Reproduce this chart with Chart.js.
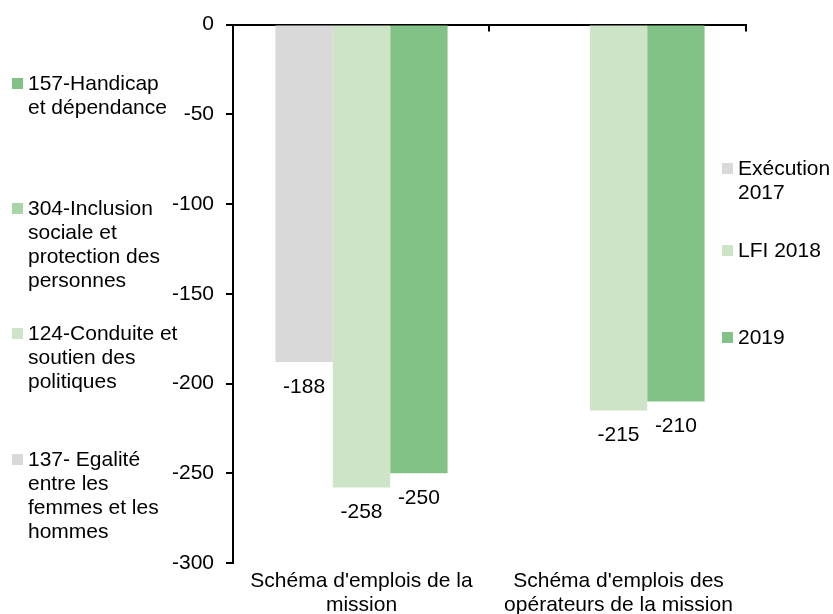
<!DOCTYPE html>
<html>
<head>
<meta charset="utf-8">
<script src="https://cdn.jsdelivr.net/npm/chart.js@4.4.0/dist/chart.umd.min.js"></script>
<style>
  body { margin: 0; background: #fff; }
  #wrap { position: relative; width: 833px; height: 614px; font-family: "Liberation Sans", Arial, sans-serif; font-size: 21px; color: #000; }
  .item { position: absolute; line-height: 24px; white-space: nowrap; }
  .sq { position: absolute; width: 11px; height: 11px; }
</style>
</head>
<body>
<div id="wrap">
  <canvas id="myChart" width="833" height="614"></canvas>
</div>
<script>
const categories = [["Schéma d'emplois de la", 'mission'], ["Schéma d'emplois des", 'opérateurs de la mission']];
const seriesNames = ['Exécution 2017', 'LFI 2018', '2019'];
const exec2017 = [-188, null];
const lfi2018 = [-258, -215];
const vote2019 = [-250, -210];
const colors = ['#d9d9d9', '#cde4c6', '#82c287'];

// legend of the other chart (programmes), shown on the left
const progNames = [['157-Handicap', 'et dépendance'], ['304-Inclusion', 'sociale et', 'protection des', 'personnes'], ['124-Conduite et', 'soutien des', 'politiques'], ['137- Egalité', 'entre les', 'femmes et les', 'hommes']];
const progColors = ['#82c287', '#a9d4a5', '#cde4c6', '#d9d9d9'];
const rightLegend = [['Exécution', '2017'], ['LFI 2018'], ['2019']];

function addLegend(names, cols, x, ys) {
  const wrap = document.getElementById('wrap');
  names.forEach((lines, i) => {
    const sq = document.createElement('div');
    sq.className = 'sq';
    sq.style.left = x + 'px';
    sq.style.top = (ys[i] - 5) + 'px';
    sq.style.background = cols[i];
    wrap.appendChild(sq);
    const it = document.createElement('div');
    it.className = 'item';
    it.style.left = (x + 16) + 'px';
    it.style.top = (ys[i] - 12) + 'px';
    it.innerHTML = lines.join('<br>');
    wrap.appendChild(it);
  });
}
addLegend(progNames, progColors, 12, [83, 208, 333, 459]);
addLegend(rightLegend, colors, 722, [168, 250, 337]);

const valueLabels = {
  id: 'valueLabels',
  afterDatasetsDraw(chart) {
    const c = chart.ctx;
    c.save();
    c.font = '21px "Liberation Sans", Arial';
    c.fillStyle = '#000';
    c.textAlign = 'center';
    c.textBaseline = 'middle';
    chart.data.datasets.forEach((ds, i) => {
      chart.getDatasetMeta(i).data.forEach((bar, j) => {
        if (ds.data[j] == null) return;
        c.fillText(ds.data[j], bar.x, bar.y + 25);
      });
    });
    // short ticks on the zero line at category edges
    const a = chart.chartArea;
    const xs = chart.scales.x;
    const w = (a.right - a.left) / categories.length;
    c.strokeStyle = '#000';
    c.lineWidth = 2;
    for (let k = 1; k <= categories.length; k++) {
      const px = Math.round(a.left + k * w) - 1;
      c.beginPath();
      c.moveTo(px, a.top);
      c.lineTo(px, a.top + 7);
      c.stroke();
    }
    c.restore();
  }
};

const ctx = document.getElementById('myChart');
new Chart(ctx, {
  type: 'bar',
  data: {
    labels: categories,
    datasets: [
      { label: seriesNames[0], data: exec2017, backgroundColor: colors[0] },
      { label: seriesNames[1], data: lfi2018, backgroundColor: colors[1] },
      { label: seriesNames[2], data: vote2019, backgroundColor: colors[2] }
    ]
  },
  options: {
    responsive: false,
    animation: false,
    barPercentage: 1,
    categoryPercentage: 0.67,
    layout: { padding: { top: 22, right: 86, left: 0, bottom: 0 } },
    plugins: {
      legend: { display: false },
      tooltip: { enabled: false }
    },
    scales: {
      x: {
        grid: { display: false, drawTicks: false },
        border: { display: false },
        ticks: {
          color: '#000',
          padding: 6,
          maxRotation: 0,
          font: { family: '"Liberation Sans", Arial', size: 21, lineHeight: 1.15 }
        },
        afterFit(scale) { scale.height = 51; }
      },
      y: {
        min: -300,
        max: 0,
        z: 1,
        ticks: {
          stepSize: 50,
          color: '#000',
          padding: 12,
          font: { family: '"Liberation Sans", Arial', size: 21 }
        },
        grid: {
          color: (c) => c.tick && c.tick.value === 0 ? '#000' : 'rgba(0,0,0,0)',
          lineWidth: 2,
          tickColor: '#000',
          tickLength: 7,
          tickWidth: 2
        },
        border: { color: '#000', width: 2 },
        afterFit(scale) { scale.width = 233; }
      }
    }
  },
  plugins: [valueLabels]
});
</script>
</body>
</html>
